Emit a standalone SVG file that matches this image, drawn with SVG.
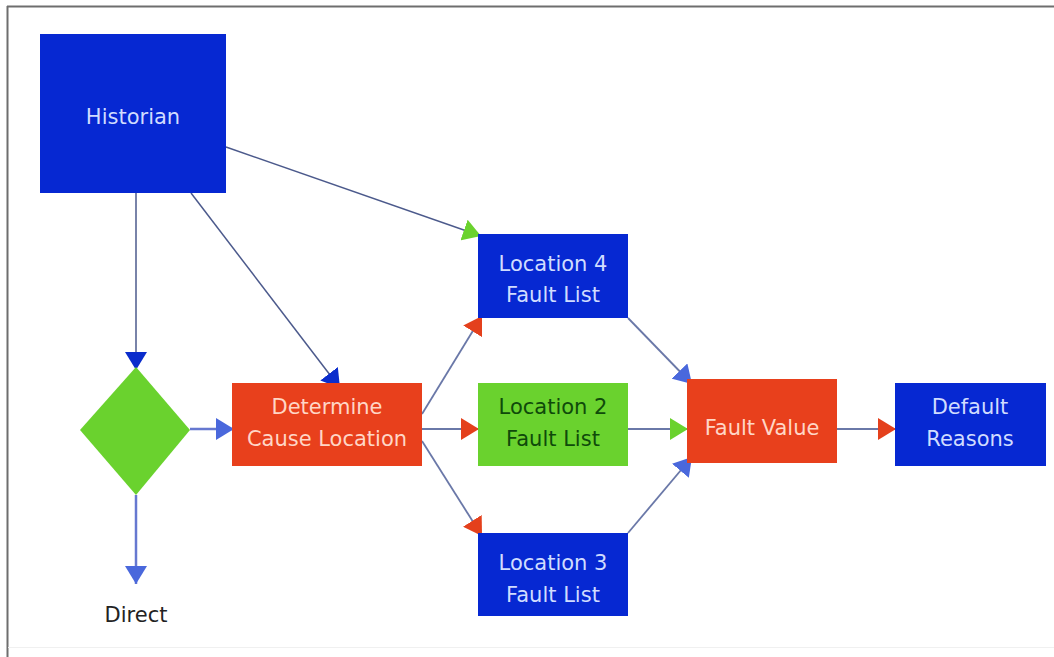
<svg xmlns="http://www.w3.org/2000/svg" width="1054" height="657" viewBox="0 0 1054 657">
<defs>
<style>
.blue{fill:#0628d2}
.red{fill:#e8401c}
.green{fill:#6ad22e}
text{font-family:"DejaVu Sans","Liberation Sans",sans-serif;font-size:21px;text-anchor:middle}
.tb{fill:#d0dcff}
.tr{fill:#ffd6c6}
.tg{fill:#0f4a0a}
.td{fill:#222222}
.ln{fill:none;stroke:#4c5a8c;stroke-width:1.5}
.lb{fill:none;stroke:#6678d0;stroke-width:2.5}
.lg{fill:none;stroke:#6a78a8;stroke-width:1.8}
</style>
<marker id="aDark" markerUnits="userSpaceOnUse" markerWidth="20" markerHeight="22" refX="18" refY="11" orient="auto" viewBox="0 0 20 22"><path d="M0,0 L18,11 L0,22 z" fill="#0a2ccc"/></marker>
<marker id="aBlue" markerUnits="userSpaceOnUse" markerWidth="20" markerHeight="22" refX="18" refY="11" orient="auto" viewBox="0 0 20 22"><path d="M0,0 L18,11 L0,22 z" fill="#4a68dc"/></marker>
<marker id="aRed" markerUnits="userSpaceOnUse" markerWidth="20" markerHeight="22" refX="18" refY="11" orient="auto" viewBox="0 0 20 22"><path d="M0,0 L18,11 L0,22 z" fill="#e4401c"/></marker>
<marker id="aGreen" markerUnits="userSpaceOnUse" markerWidth="20" markerHeight="22" refX="18" refY="11" orient="auto" viewBox="0 0 20 22"><path d="M0,0 L18,11 L0,22 z" fill="#6ad22e"/></marker>
</defs>
<rect x="0" y="0" width="1054" height="657" fill="#ffffff"/>
<g id="frame">
<line x1="7" y1="6.5" x2="1054" y2="6.5" stroke="#6e6e6e" stroke-width="2"/>
<line x1="7.5" y1="6" x2="7.5" y2="657" stroke="#6e6e6e" stroke-width="2"/>
<line x1="8" y1="647.5" x2="1054" y2="647.5" stroke="#f0f0f0" stroke-width="1"/>
</g>
<g id="connectors">
<line class="ln" x1="136" y1="193" x2="136" y2="370" marker-end="url(#aDark)"/>
<line class="ln" x1="191" y1="193" x2="340" y2="388" marker-end="url(#aDark)"/>
<line class="ln" x1="226" y1="147" x2="481" y2="236" marker-end="url(#aGreen)"/>
<line class="lb" x1="190" y1="429" x2="234" y2="429" marker-end="url(#aBlue)"/>
<line class="lb" x1="136" y1="495" x2="136" y2="584" marker-end="url(#aBlue)"/>
<line class="lg" x1="422" y1="414" x2="482" y2="316" marker-end="url(#aRed)"/>
<line class="lg" x1="422" y1="429" x2="479" y2="429" marker-end="url(#aRed)"/>
<line class="lg" x1="422" y1="441" x2="482" y2="536" marker-end="url(#aRed)"/>
<line class="lg" x1="628" y1="318" x2="692" y2="384" marker-end="url(#aBlue)"/>
<line class="lg" x1="628" y1="429" x2="688" y2="429" marker-end="url(#aGreen)"/>
<line class="lg" x1="628" y1="533" x2="692" y2="457" marker-end="url(#aBlue)"/>
<line class="lg" x1="837" y1="429" x2="896" y2="429" marker-end="url(#aRed)"/>
</g>
<g id="historian">
<rect class="blue" x="40" y="34" width="186" height="159"/>
<text class="tb" x="133" y="124">Historian</text>
</g>
<g id="decision">
<polygon class="green" points="136,367 190,430 136,495 80,430"/>
</g>
<g id="direct">
<text class="td" x="136" y="622">Direct</text>
</g>
<g id="determine">
<rect class="red" x="232" y="383" width="190" height="83"/>
<text class="tr" x="327" y="414">Determine</text>
<text class="tr" x="327" y="446">Cause Location</text>
</g>
<g id="loc4">
<rect class="blue" x="478" y="234" width="150" height="84"/>
<text class="tb" x="553" y="271">Location 4</text>
<text class="tb" x="553" y="302">Fault List</text>
</g>
<g id="loc2">
<rect class="green" x="478" y="383" width="150" height="83"/>
<text class="tg" x="553" y="414">Location 2</text>
<text class="tg" x="553" y="446">Fault List</text>
</g>
<g id="loc3">
<rect class="blue" x="478" y="533" width="150" height="83"/>
<text class="tb" x="553" y="570">Location 3</text>
<text class="tb" x="553" y="602">Fault List</text>
</g>
<g id="faultvalue">
<rect class="red" x="687" y="379" width="150" height="84"/>
<text class="tr" x="762" y="435">Fault Value</text>
</g>
<g id="default">
<rect class="blue" x="895" y="383" width="151" height="83"/>
<text class="tb" x="970" y="414">Default</text>
<text class="tb" x="970" y="446">Reasons</text>
</g>
</svg>
